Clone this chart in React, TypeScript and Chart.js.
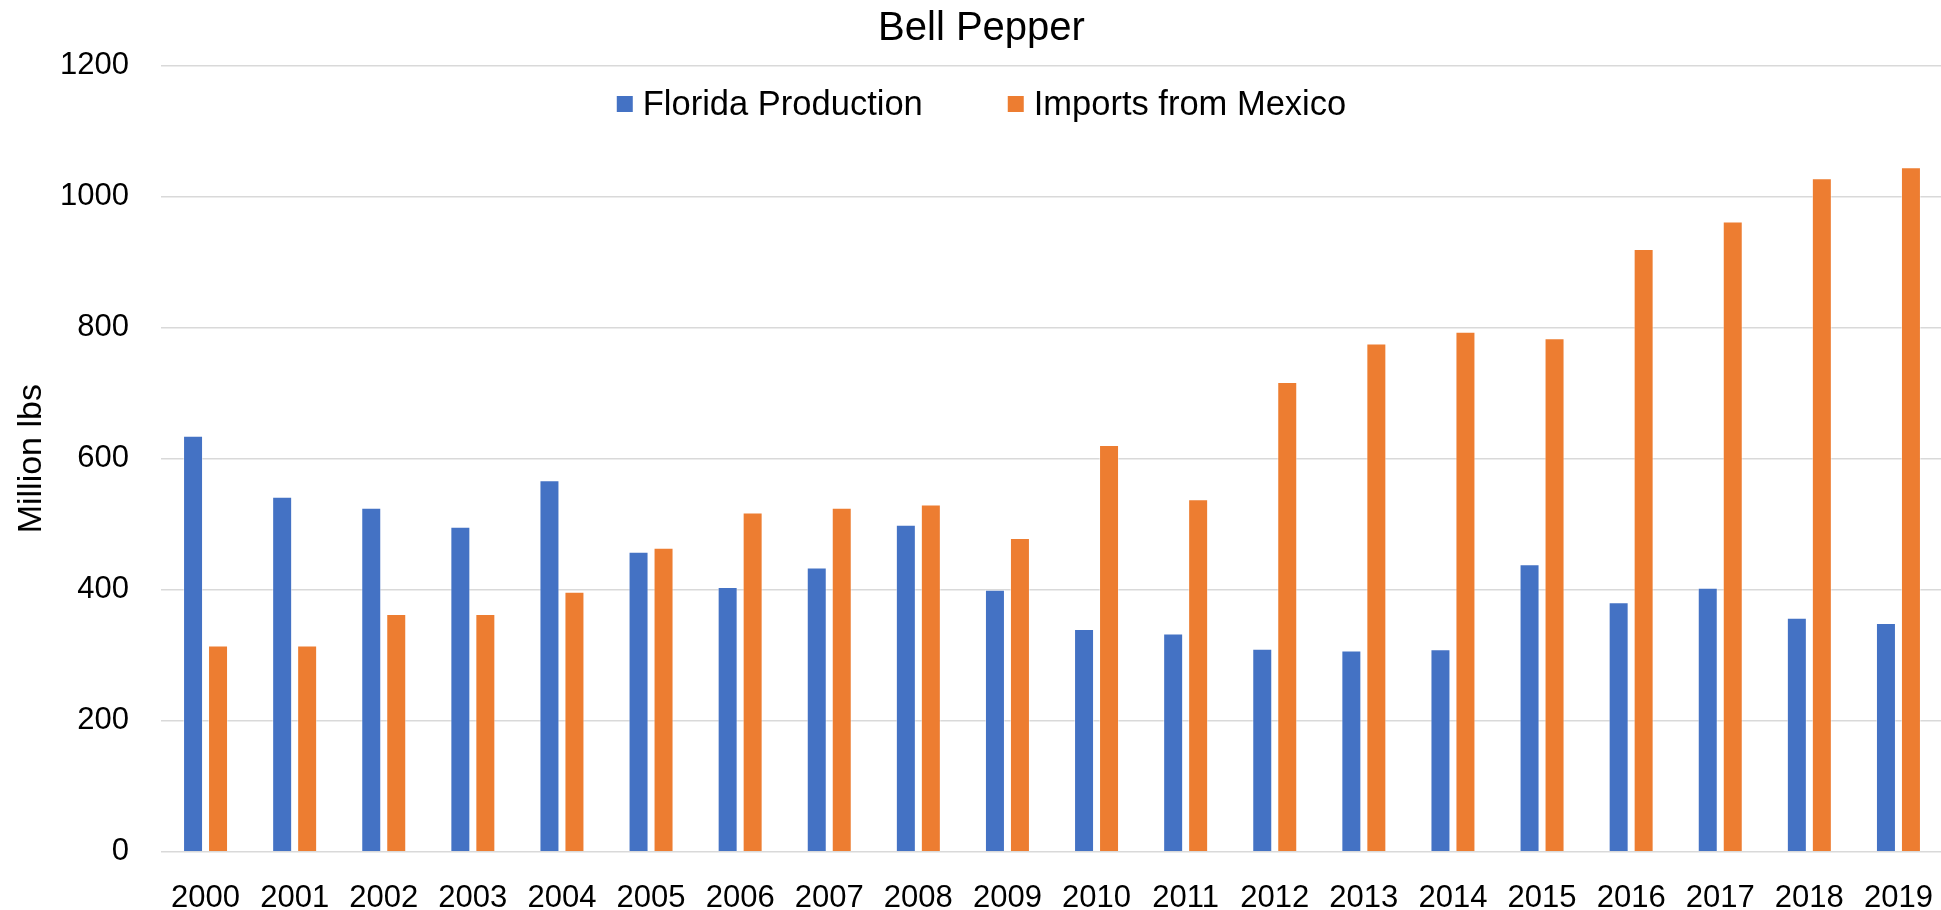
import React, { useEffect, useRef } from "react";
import { Chart, registerables } from "chart.js";

Chart.register(...registerables);

const years = ["2000","2001","2002","2003","2004","2005","2006","2007","2008","2009","2010","2011","2012","2013","2014","2015","2016","2017","2018","2019"];
const floridaProduction = [635, 542, 525, 496, 567, 458, 404, 434, 499, 400, 340, 333, 310, 307, 309, 439, 381, 403, 357, 349];
const importsFromMexico = [315, 315, 363, 363, 397, 464, 518, 525, 530, 479, 621, 538, 717, 776, 794, 784, 920, 962, 1028, 1045];
const seriesNames = ["Florida Production", "Imports from Mexico"];
const seriesColors = ["#4472C4", "#ED7D31"];

const FONT = "'Liberation Sans', Arial, sans-serif";

const overlayLegend = {
  id: "overlayLegend",
  afterDraw(chart: any) {
    const ctx = chart.ctx;
    ctx.save();
    ctx.font = `34.5px ${FONT}`;
    ctx.textBaseline = "middle";
    ctx.textAlign = "left";
    const sq = 16, gap = 10, between = 85;
    const items = chart.data.datasets.map((d: any) => ({ label: d.label, color: d.backgroundColor, w: sq + gap + ctx.measureText(d.label).width }));
    const total = items.reduce((s: number, it: any) => s + it.w, 0) + between * (items.length - 1);
    let x = chart.width / 2 - total / 2;
    const y = 104;
    items.forEach((it: any) => {
      ctx.fillStyle = it.color;
      ctx.fillRect(x, y - sq / 2, sq, sq);
      ctx.fillStyle = "#000";
      ctx.fillText(it.label, x + sq + gap, y + 1);
      x += it.w + between;
    });
    ctx.restore();
  },
};

export default function App() {
  const ref = useRef<HTMLCanvasElement>(null);
  useEffect(() => {
    if (!ref.current) return;
    const chart = new Chart(ref.current, {
      type: "bar",
      data: {
        labels: years,
        datasets: [
          { label: seriesNames[0], data: floridaProduction, backgroundColor: seriesColors[0], borderColor: "rgba(255,255,255,0.45)", borderWidth: 1 },
          { label: seriesNames[1], data: importsFromMexico, backgroundColor: seriesColors[1], borderColor: "rgba(255,255,255,0.45)", borderWidth: 1 },
        ],
      },
      options: {
        animation: false,
        responsive: true,
        maintainAspectRatio: false,
        layout: { padding: { left: 20, right: 20, top: 0, bottom: 0 } },
        datasets: { bar: { categoryPercentage: 0.561, barPercentage: 0.8 } },
        plugins: {
          legend: { display: false },
          tooltip: { enabled: false },
          title: {
            display: true,
            text: "Bell Pepper",
            color: "#000",
            font: { family: FONT, size: 40, weight: "normal" },
            padding: { top: 4.5, bottom: 13.2 },
          },
        },
        scales: {
          x: {
            grid: { display: false },
            border: { display: false },
            ticks: { color: "#000", font: { family: FONT, size: 31 }, padding: 20, maxRotation: 0, autoSkip: false },
            afterFit: (s: any) => { s.height = 58.3; },
          },
          y: {
            min: 0,
            max: 1200,
            ticks: { stepSize: 200, color: "#000", font: { family: FONT, size: 31 }, padding: 32, callback: (v: any) => String(v) },
            grid: { color: "#d9d9d9", lineWidth: 1.5, drawTicks: false },
            border: { display: false },
            title: { display: true, text: "Million lbs", color: "#000", font: { family: FONT, size: 34, lineHeight: 0.6 }, padding: { top: 1.3, bottom: 0 } },
            afterFit: (s: any) => { s.width = 141; },
          },
        },
      },
      plugins: [overlayLegend],
    });
    return () => chart.destroy();
  }, []);
  return (
    <div style={{ position: "fixed", left: 0, top: 0, width: 1941, height: 910, overflow: "hidden", background: "#fff" }}>
      <div style={{ position: "relative", width: 1963, height: 910 }}>
        <canvas ref={ref} />
      </div>
    </div>
  );
}
